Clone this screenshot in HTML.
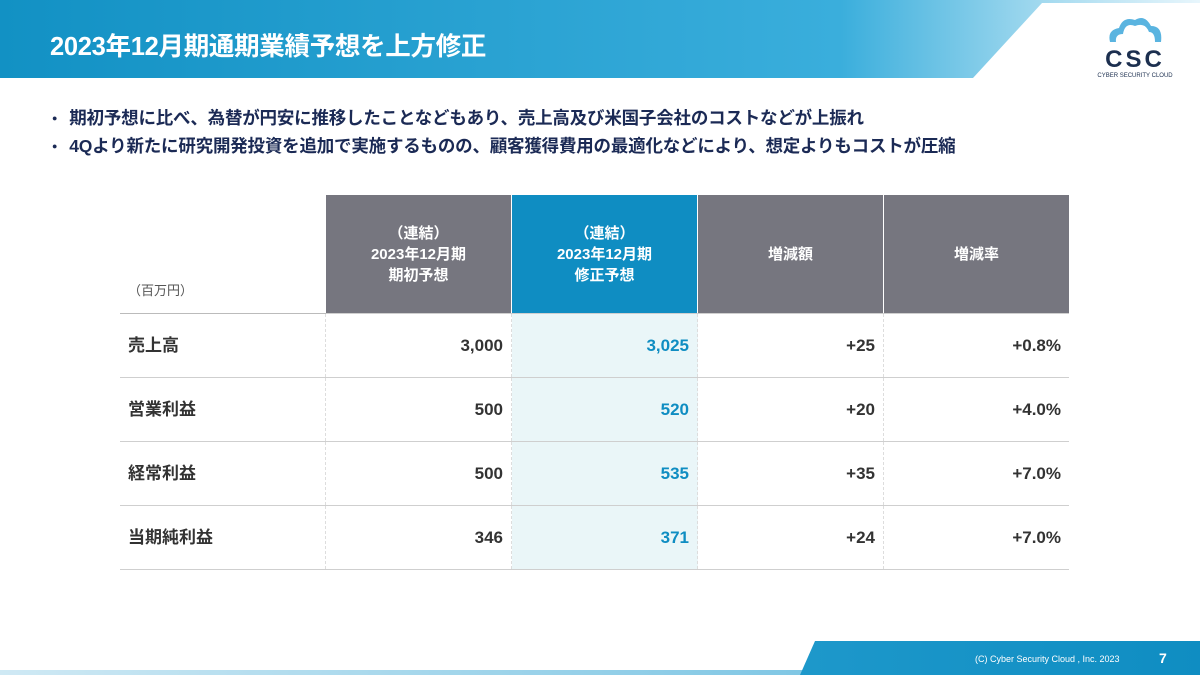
<!DOCTYPE html>
<html><head><meta charset="utf-8"><style>
body{margin:0;width:1200px;height:675px;overflow:hidden;background:#fff;font-family:"Liberation Sans","Noto Sans CJK JP",sans-serif;position:relative}
.abs{position:absolute}
#hdr{left:0;top:0;width:1200px;height:78px;background:linear-gradient(90deg,#1291c4 0%,#3aaedc 70%,#a9dcf0 88%,#e8f6fc 100%)}
#hdrw{left:0;top:0;width:1200px;height:78px;background:#fff;clip-path:polygon(1042px 3px,1200px 3px,1200px 78px,973px 78px)}
#title{left:50px;top:26px;color:#fff;font-size:25.5px;font-weight:bold;letter-spacing:-0.3px}
.bul{left:52px;font-size:17.5px;font-weight:bold;color:#1b2a55;white-space:nowrap;letter-spacing:-0.2px}
.bul:before{content:"●";font-size:9px;position:relative;top:-3px;margin-right:12px}
table{position:absolute;left:120px;top:195px;border-collapse:collapse;font-size:17px;font-weight:bold;color:#333}
td{height:63px;border-bottom:1px solid #cfcfcf;text-align:right;padding:0 8px;width:169px;border-left:1px dashed #ddd;line-height:20px}
td.l{text-align:left;width:189px;border-left:none}
td.h{background:#76767f;color:#fff;text-align:center;height:118px;font-size:15px;line-height:21px;border-left:1px solid #fff;vertical-align:middle}
td.hb{background:#0f8dc2}
td.b{background:#eaf6f8;color:#0f8dc2}
#foot{left:0;top:641px;width:1200px;height:34px;background:linear-gradient(90deg,#3aaedc,#0f8dc2);clip-path:polygon(815px 0,1200px 0,1200px 34px,800px 34px)}
#fline{left:0;top:670px;width:820px;height:5px;background:linear-gradient(90deg,#cfe9f4,#7ec6e4)}
</style></head><body>
<div class="abs" id="hdr"></div>
<div class="abs" id="hdrw"></div>
<div class="abs" id="title">2023年12月期通期業績予想を上方修正</div>
<div class="abs" style="left:1090px;top:14px;width:90px;text-align:center;color:#1c2f4f">
<svg width="60" height="30" viewBox="0 0 60 30"><path d="M5 28 Q2 16 14 14 Q18 2 30 6 Q40 0 46 12 Q58 12 56 28 L50 28 Q50 18 44 18 Q40 8 30 12 Q20 8 18 20 Q10 20 11 28Z" fill="#5ab4e0"/></svg>
<div style="font-size:24px;font-weight:bold;letter-spacing:3px;line-height:22px;color:#1c2f4f">CSC</div>
<div style="font-size:6px;margin-top:2px">CYBER SECURITY CLOUD</div></div>
<div class="abs bul" style="top:105px">期初予想に比べ、為替が円安に推移したことなどもあり、売上高及び米国子会社のコストなどが上振れ</div>
<div class="abs bul" style="top:133px">4Qより新たに研究開発投資を追加で実施するものの、顧客獲得費用の最適化などにより、想定よりもコストが圧縮</div>
<table>
<tr><td class="l" style="vertical-align:bottom;padding-bottom:12px;font-weight:normal;font-size:13px;color:#555;border-bottom:1px solid #bbb">（百万円）</td>
<td class="h">（連結）<br>2023年12月期<br>期初予想</td>
<td class="h hb">（連結）<br>2023年12月期<br>修正予想</td>
<td class="h">増減額</td>
<td class="h">増減率</td></tr>
<tr><td class="l">売上高</td><td>3,000</td><td class="b">3,025</td><td>+25</td><td>+0.8%</td></tr>
<tr><td class="l">営業利益</td><td>500</td><td class="b">520</td><td>+20</td><td>+4.0%</td></tr>
<tr><td class="l">経常利益</td><td>500</td><td class="b">535</td><td>+35</td><td>+7.0%</td></tr>
<tr><td class="l">当期純利益</td><td>346</td><td class="b">371</td><td>+24</td><td>+7.0%</td></tr>
</table>
<div class="abs" id="fline"></div>
<div class="abs" id="foot"></div>
<div class="abs" style="left:975px;top:654px;color:#fff;font-size:9px">(C) Cyber Security Cloud , Inc. 2023</div>
<div class="abs" style="left:1159px;top:650px;color:#fff;font-size:14px;font-weight:bold">7</div>
</body></html>
